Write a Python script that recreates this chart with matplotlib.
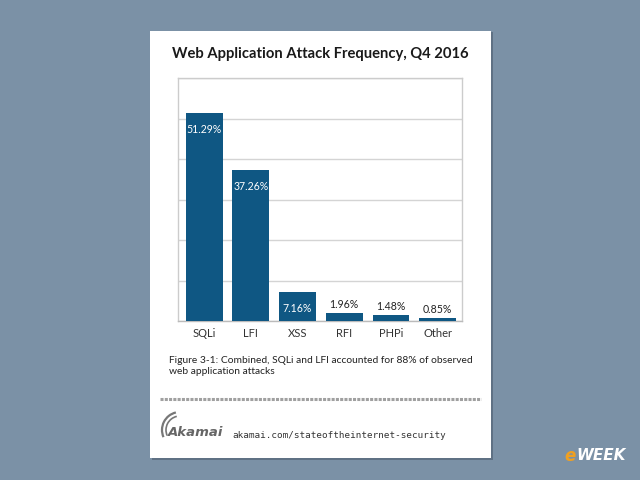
import matplotlib
matplotlib.use("Agg")
import matplotlib.pyplot as plt
from matplotlib.patches import Rectangle, Arc

# data
categories = ["SQLi", "LFI", "XSS", "RFI", "PHPi", "Other"]
shares = [51.29, 37.26, 7.16, 1.96, 1.48, 0.85]
labels = ["51.29%", "37.26%", "7.16%", "1.96%", "1.48%", "0.85%"]
inside = [True, True, True, False, False, False]

title = "Web Application Attack Frequency, Q4 2016"
caption = "Figure 3-1: Combined, SQLi and LFI accounted for 88% of observed\nweb application attacks"
url = "akamai.com/stateoftheinternet-security"

bar_col = "#0f5783"
W, H = 640, 480

def fx(px):
    return px / W

def fy(py):
    return 1 - py / H

fig = plt.figure(figsize=(6.4, 4.8), dpi=100)
fig.patch.set_facecolor("#7b91a6")

# white card with a faint shadow
fig.patches.append(Rectangle((fx(152), fy(460)), fx(341), 428 / H, transform=fig.transFigure,
                             facecolor="#5f7184", edgecolor="none", zorder=-2))
fig.patches.append(Rectangle((fx(150), fy(458)), fx(341), 427 / H, transform=fig.transFigure,
                             facecolor="white", edgecolor="none", zorder=-1))

ax = fig.add_axes([fx(178), fy(321), fx(462 - 178), (321 - 78) / H])
x = list(range(len(categories)))
bars = ax.bar(x, shares, width=0.79, color=bar_col, zorder=3)
ax.set_ylim(0, 60)
ax.set_xlim(-0.56, 5.52)
ax.set_yticks(range(0, 61, 10))
ax.set_yticklabels([])
ax.tick_params(axis="y", length=0)
ax.tick_params(axis="x", length=0, pad=5, labelsize=8, labelcolor="#333333")
ax.set_xticks(x)
ax.set_xticklabels(categories, fontfamily="Lato")
ax.grid(axis="y", color="#d4d4d4", linewidth=1, zorder=0)
for s in ax.spines.values():
    s.set_color("#cccccc")
    s.set_linewidth(1)
ax.spines["bottom"].set_color("#bbbbbb")

for xi, v, lab, ins in zip(x, shares, labels, inside):
    if ins:
        ax.text(xi, v - 4, lab, ha="center", va="center", color="white",
                fontsize=7.6, fontfamily="Lato", zorder=4)
    else:
        ax.text(xi, v + 0.7, lab, ha="center", va="bottom", color="#222222",
                fontsize=7.6, fontfamily="Lato", zorder=4)

fig.text(fx(320), fy(54), title, ha="center", va="center", fontsize=10.6,
         fontfamily="Lato", fontweight="bold", color="#1a1a1a")
fig.text(fx(169), fy(366), caption, ha="left", va="center", fontsize=7.4,
         fontfamily="Lato", color="#222222", linespacing=1.35)

# separator line
fig.add_artist(plt.Line2D([fx(160), fx(481)], [fy(399), fy(399)], transform=fig.transFigure,
                          color="#a0a0a0", linewidth=2.2, linestyle=(0, (1, 0.4))))

# akamai logo
fig.text(fx(168), fy(433), "Akamai", ha="left", va="center", fontsize=9.5,
         fontfamily="DejaVu Sans", fontweight="bold", style="italic", color="#666666")
for r, lw in [(18, 1.6), (14, 1.2)]:
    fig.patches.append(Arc((fx(180), fy(430)), 2 * r / W, 2 * r / H, angle=0,
                           theta1=100, theta2=210, transform=fig.transFigure,
                           color="#777777", linewidth=lw))
fig.text(fx(232), fy(435), url, ha="left", va="center", fontsize=6.7,
         fontfamily="DejaVu Sans Mono", color="#333333")

# eWEEK badge
fig.text(fx(564), fy(456), "e", ha="left", va="center", fontsize=12, fontweight="bold",
         style="italic", color="#f0a020", fontfamily="DejaVu Sans")
fig.text(fx(576), fy(456), "WEEK", ha="left", va="center", fontsize=11, fontweight="bold",
         style="italic", color="white", fontfamily="DejaVu Sans")

fig.savefig("out.png", dpi=100, facecolor=fig.get_facecolor())
